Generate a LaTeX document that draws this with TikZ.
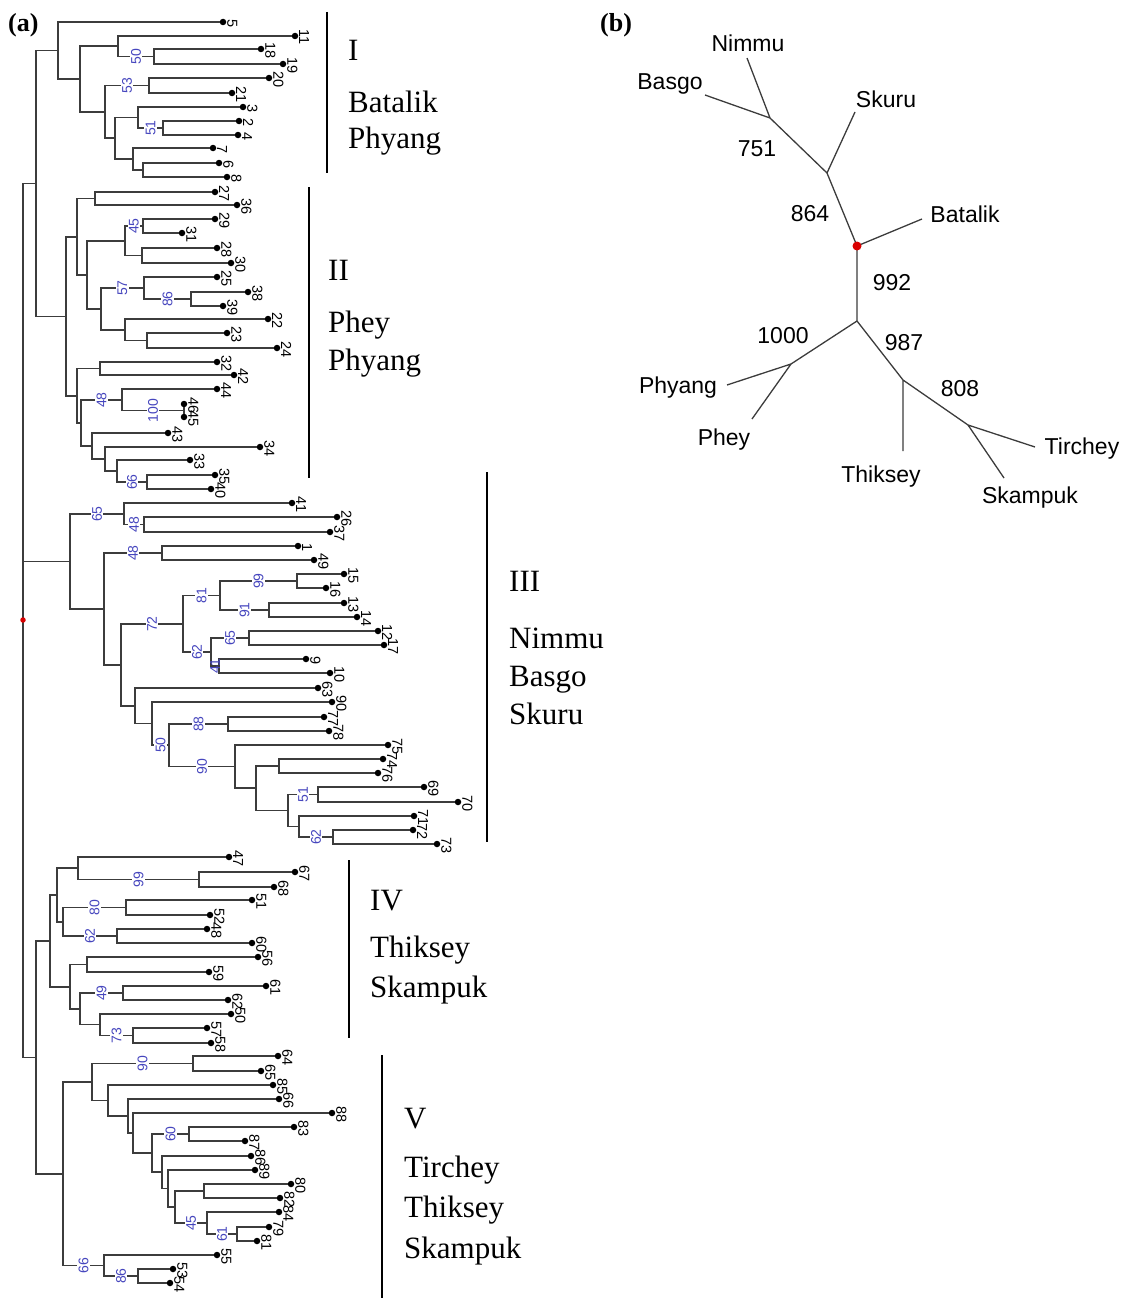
\documentclass[tikz,border=0pt]{standalone}
\usepackage{fontspec}
\setmainfont{Liberation Serif}
\newfontfamily\arialfont{Liberation Sans}
\usetikzlibrary{positioning}
\definecolor{bootblue}{RGB}{70,70,190}
\definecolor{branchgray}{RGB}{60,60,60}

\begin{document}
\begin{tikzpicture}[
    x=1pt, y=-1pt,
    label distance=1.5pt,
    branch/.style={draw=branchgray, line width=1.3pt},
    leaf/.style={
        circle,
        fill=black,
        inner sep=0pt,
        minimum size=6.5pt
    },
    tip/.style={
        rotate=-90,
        anchor=south,
        inner sep=0.5pt,
        font=\arialfont\fontsize{14.5}{15}\selectfont
    },
    boot/.style={
        pos=0.75,
        rotate=90,
        fill=white,
        inner sep=1.2pt,
        text=bootblue,
        font=\arialfont\fontsize{14}{15}\selectfont
    },
    rootdot/.style={circle, fill=red!85!black, inner sep=0pt, minimum size=#1},
    groupbar/.style={line width=2.4pt},
    grouptext/.style={anchor=base west, inner sep=0pt, font=\fontsize{31}{36}\selectfont},
    panel/.style={anchor=base west, inner sep=0pt, font=\bfseries\fontsize{26}{30}\selectfont},
    site/.style={inner sep=0pt, font=\arialfont\fontsize{23}{26}\selectfont},
    unbranch/.style={draw=branchgray, line width=1.3pt}
]
\useasboundingbox (0,0) rectangle (1142,1298);

% (a) dendrogram
\node[panel] (pa) at (8,32) {(a)};

% cluster I leaves
\node[leaf, label={[tip]0:5}] (L5) at (223,22) {};
\node[leaf, label={[tip]0:11}] (L11) at (295,36) {};
\node[leaf, label={[tip]0:18}] (L18) at (261,49) {};
\node[leaf, label={[tip]0:19}] (L19) at (283,64) {};
\node[leaf, label={[tip]0:20}] (L20) at (269,78) {};
\node[leaf, label={[tip]0:21}] (L21) at (232,93) {};
\node[leaf, label={[tip]0:3}] (L3) at (243,107) {};
\node[leaf, label={[tip]0:2}] (L2) at (239,121) {};
\node[leaf, label={[tip]0:4}] (L4) at (238,135) {};
\node[leaf, label={[tip]0:7}] (L7) at (213,148) {};
\node[leaf, label={[tip]0:6}] (L6) at (219,163) {};
\node[leaf, label={[tip]0:8}] (L8) at (227,177) {};

\coordinate (a1) at (154,56.5);
\coordinate (b1) at (118,46);
\coordinate (c1) at (149,85.5);
\coordinate (d1) at (163,128);
\coordinate (e1) at (138,117.5);
\coordinate (h1) at (143,170);
\coordinate (i1) at (133,159);
\coordinate (j1) at (115,138);
\coordinate (f1) at (105,112);
\coordinate (k1) at (80,79);
\coordinate (m1) at (58,50.5);

\draw[branch] (a1) |- (L18) (a1) |- (L19);
\draw[branch] (b1) |- (L11) (b1) |- node[boot] {50} (a1);
\draw[branch] (c1) |- (L20) (c1) |- (L21);
\draw[branch] (d1) |- (L2) (d1) |- (L4);
\draw[branch] (e1) |- (L3) (e1) |- node[boot] {51} (d1);
\draw[branch] (h1) |- (L6) (h1) |- (L8);
\draw[branch] (i1) |- (L7) (i1) |- (h1);
\draw[branch] (j1) |- (e1) (j1) |- (i1);
\draw[branch] (f1) |- node[boot] {53} (c1) (f1) |- (j1);
\draw[branch] (k1) |- (b1) (k1) |- (f1);
\draw[branch] (m1) |- (L5) (m1) |- (k1);

% cluster II leaves
\node[leaf, label={[tip]0:27}] (L27) at (215,192) {};
\node[leaf, label={[tip]0:36}] (L36) at (237,205) {};
\node[leaf, label={[tip]0:29}] (L29) at (215,219) {};
\node[leaf, label={[tip]0:31}] (L31) at (182,233) {};
\node[leaf, label={[tip]0:28}] (L28) at (217,248) {};
\node[leaf, label={[tip]0:30}] (L30) at (231,263) {};
\node[leaf, label={[tip]0:25}] (L25) at (217,277) {};
\node[leaf, label={[tip]0:38}] (L38) at (248,292) {};
\node[leaf, label={[tip]0:39}] (L39) at (223,306) {};
\node[leaf, label={[tip]0:22}] (L22) at (268,319) {};
\node[leaf, label={[tip]0:23}] (L23) at (227,333) {};
\node[leaf, label={[tip]0:24}] (L24) at (277,348) {};
\node[leaf, label={[tip]0:32}] (L32) at (217,362) {};
\node[leaf, label={[tip]0:42}] (L42) at (234,375) {};
\node[leaf, label={[tip]0:44}] (L44) at (217,389) {};
\node[leaf, label={[tip]0:46}] (L46) at (184,404) {};
\node[leaf, label={[tip]0:45}] (L45) at (184,417) {};
\node[leaf, label={[tip]0:43}] (L43) at (168,433) {};
\node[leaf, label={[tip]0:34}] (L34) at (260,447) {};
\node[leaf, label={[tip]0:33}] (L33) at (190,460) {};
\node[leaf, label={[tip]0:35}] (L35) at (215,475) {};
\node[leaf, label={[tip]0:40}] (L40) at (211,489) {};

\coordinate (a2) at (95,198.5);
\coordinate (b2) at (143,226);
\coordinate (c2) at (142,255.5);
\coordinate (d2) at (125,241);
\coordinate (e2) at (191,299);
\coordinate (f2) at (144,288);
\coordinate (g2) at (147,340.5);
\coordinate (h2) at (125,330);
\coordinate (i2) at (101,309);
\coordinate (j2) at (87,275);
\coordinate (k2) at (77,237);
\coordinate (m2) at (100,368.5);
\coordinate (n2) at (184,410.5);
\coordinate (o2) at (122,400);
\coordinate (p2) at (147,482);
\coordinate (q2) at (117,471);
\coordinate (r2) at (105,459);
\coordinate (t2) at (92,446);
\coordinate (s2) at (81,423);
\coordinate (u2) at (77,396);
\coordinate (v2) at (66,316.5);

\draw[branch] (a2) |- (L27) (a2) |- (L36);
\draw[branch] (b2) |- (L29) (b2) |- (L31);
\draw[branch] (c2) |- (L28) (c2) |- (L30);
\draw[branch] (d2) |- node[boot] {45} (b2) (d2) |- (c2);
\draw[branch] (e2) |- (L38) (e2) |- (L39);
\draw[branch] (f2) |- (L25) (f2) |- node[boot] {86} (e2);
\draw[branch] (g2) |- (L23) (g2) |- (L24);
\draw[branch] (h2) |- (L22) (h2) |- (g2);
\draw[branch] (i2) |- node[boot] {57} (f2) (i2) |- (h2);
\draw[branch] (j2) |- (d2) (j2) |- (i2);
\draw[branch] (k2) |- (a2) (k2) |- (j2);
\draw[branch] (m2) |- (L32) (m2) |- (L42);
\draw[branch] (L46) -- (L45);
\draw[branch] (o2) |- (L44) (o2) |- node[boot] {100} (n2);
\draw[branch] (p2) |- (L35) (p2) |- (L40);
\draw[branch] (q2) |- (L33) (q2) |- node[boot] {66} (p2);
\draw[branch] (r2) |- (L34) (r2) |- (q2);
\draw[branch] (t2) |- (L43) (t2) |- (r2);
\draw[branch] (s2) |- node[boot] {48} (o2) (s2) |- (t2);
\draw[branch] (u2) |- (m2) (u2) |- (s2);
\draw[branch] (v2) |- (k2) (v2) |- (u2);

\coordinate (w) at (36,183.5);
\draw[branch] (w) |- (m1) (w) |- (v2);

% cluster III leaves
\node[leaf, label={[tip]0:41}] (L41) at (292,503) {};
\node[leaf, label={[tip]0:26}] (L26) at (337,517) {};
\node[leaf, label={[tip]0:37}] (L37) at (330,532) {};
\node[leaf, label={[tip]0:1}] (L1) at (298,546) {};
\node[leaf, label={[tip]0:49}] (L49) at (314,560) {};
\node[leaf, label={[tip]0:15}] (L15) at (344,574) {};
\node[leaf, label={[tip]0:16}] (L16) at (326,588) {};
\node[leaf, label={[tip]0:13}] (L13) at (344,603) {};
\node[leaf, label={[tip]0:14}] (L14) at (357,617) {};
\node[leaf, label={[tip]0:12}] (L12) at (378,631) {};
\node[leaf, label={[tip]0:17}] (L17) at (384,645) {};
\node[leaf, label={[tip]0:9}] (L9) at (306,659) {};
\node[leaf, label={[tip]0:10}] (L10) at (330,673) {};
\node[leaf, label={[tip]0:63}] (L63) at (318,688) {};
\node[leaf, label={[tip]0:90}] (L90) at (332,702) {};
\node[leaf, label={[tip]0:77}] (L77) at (324,717) {};
\node[leaf, label={[tip]0:78}] (L78) at (329,731) {};
\node[leaf, label={[tip]0:75}] (L75) at (388,745) {};
\node[leaf, label={[tip]0:74}] (L74) at (383,759) {};
\node[leaf, label={[tip]0:76}] (L76) at (378,773) {};
\node[leaf, label={[tip]0:69}] (L69) at (424,787) {};
\node[leaf, label={[tip]0:70}] (L70) at (458,802) {};
\node[leaf, label={[tip]0:71}] (L71) at (414,816) {};
\node[leaf, label={[tip]0:72}] (L72) at (413,830) {};
\node[leaf, label={[tip]0:73}] (L73) at (437,844) {};

\coordinate (a3) at (144,524.5);
\coordinate (b3) at (124,514);
\coordinate (c3) at (162,553);
\coordinate (d3) at (297,581);
\coordinate (e3) at (269,610);
\coordinate (f3) at (220,595.5);
\coordinate (g3) at (249,638);
\coordinate (h3) at (219,666);
\coordinate (i3) at (211,652);
\coordinate (j3) at (183,624);
\coordinate (k3) at (333,837);
\coordinate (m3) at (299,826.5);
\coordinate (n3) at (318,794.5);
\coordinate (o3) at (288,810.5);
\coordinate (p3) at (279,766);
\coordinate (q3) at (256,788);
\coordinate (r3) at (235,766.5);
\coordinate (s3) at (228,724);
\coordinate (t3) at (169,745);
\coordinate (u3) at (152,723.5);
\coordinate (v3) at (135,706);
\coordinate (x3) at (121,665);
\coordinate (y3) at (104,609);
\coordinate (z3) at (70,561.5);

\draw[branch] (a3) |- (L26) (a3) |- (L37);
\draw[branch] (b3) |- (L41) (b3) |- node[boot] {48} (a3);
\draw[branch] (c3) |- (L1) (c3) |- (L49);
\draw[branch] (d3) |- (L15) (d3) |- (L16);
\draw[branch] (e3) |- (L13) (e3) |- (L14);
\draw[branch] (f3) |- node[boot] {99} (d3) (f3) |- node[boot] {91} (e3);
\draw[branch] (g3) |- (L12) (g3) |- (L17);
\draw[branch] (h3) |- (L9) (h3) |- (L10);
\draw[branch] (i3) |- node[boot] {65} (g3) (i3) |- node[boot, fill=none] {41} (h3);
\draw[branch] (j3) |- node[boot] {81} (f3) (j3) |- node[boot] {62} (i3);
\draw[branch] (k3) |- (L72) (k3) |- (L73);
\draw[branch] (m3) |- (L71) (m3) |- node[boot] {62} (k3);
\draw[branch] (n3) |- (L69) (n3) |- (L70);
\draw[branch] (o3) |- node[boot] {51} (n3) (o3) |- (m3);
\draw[branch] (p3) |- (L74) (p3) |- (L76);
\draw[branch] (q3) |- (p3) (q3) |- (o3);
\draw[branch] (r3) |- (L75) (r3) |- (q3);
\draw[branch] (s3) |- (L77) (s3) |- (L78);
\draw[branch] (t3) |- node[boot] {88} (s3) (t3) |- node[boot] {90} (r3);
\draw[branch] (u3) |- (L90) (u3) |- node[boot] {50} (t3);
\draw[branch] (v3) |- (L63) (v3) |- (u3);
\draw[branch] (x3) |- node[boot] {72} (j3) (x3) |- (v3);
\draw[branch] (y3) |- node[boot] {48} (c3) (y3) |- (x3);
\draw[branch] (z3) |- node[boot] {65} (b3) (z3) |- (y3);

% cluster IV leaves
\node[leaf, label={[tip]0:47}] (L47) at (229,857) {};
\node[leaf, label={[tip]0:67}] (L67) at (295,872) {};
\node[leaf, label={[tip]0:68}] (L68) at (274,887) {};
\node[leaf, label={[tip]0:51}] (L51) at (252,900) {};
\node[leaf, label={[tip]0:52}] (L52) at (210,915) {};
\node[leaf, label={[tip]0:48}] (L48) at (207,929) {};
\node[leaf, label={[tip]0:60}] (L60) at (252,943) {};
\node[leaf, label={[tip]0:56}] (L56) at (258,957) {};
\node[leaf, label={[tip]0:59}] (L59) at (209,972) {};
\node[leaf, label={[tip]0:61}] (L61) at (266,986) {};
\node[leaf, label={[tip]0:62}] (L62) at (228,1000) {};
\node[leaf, label={[tip]0:50}] (L50) at (231,1014) {};
\node[leaf, label={[tip]0:57}] (L57) at (207,1028) {};
\node[leaf, label={[tip]0:58}] (L58) at (211,1043) {};

\coordinate (a4) at (199,879.5);
\coordinate (b4) at (78,868);
\coordinate (c4) at (126,907.5);
\coordinate (d4) at (117,936);
\coordinate (e4) at (63,922);
\coordinate (f4) at (57,895);
\coordinate (g4) at (87,964.5);
\coordinate (h4) at (123,993);
\coordinate (i4) at (133,1035.5);
\coordinate (j4) at (100,1024.5);
\coordinate (k4) at (80,1009);
\coordinate (m4) at (70,987);
\coordinate (n4) at (50,941);

\draw[branch] (a4) |- (L67) (a4) |- (L68);
\draw[branch] (b4) |- (L47) (b4) |- node[boot] {99} (a4);
\draw[branch] (c4) |- (L51) (c4) |- (L52);
\draw[branch] (d4) |- (L48) (d4) |- (L60);
\draw[branch] (e4) |- node[boot] {80} (c4) (e4) |- node[boot] {62} (d4);
\draw[branch] (f4) |- (b4) (f4) |- (e4);
\draw[branch] (g4) |- (L56) (g4) |- (L59);
\draw[branch] (h4) |- (L61) (h4) |- (L62);
\draw[branch] (i4) |- (L57) (i4) |- (L58);
\draw[branch] (j4) |- (L50) (j4) |- node[boot] {73} (i4);
\draw[branch] (k4) |- node[boot] {49} (h4) (k4) |- (j4);
\draw[branch] (m4) |- (g4) (m4) |- (k4);
\draw[branch] (n4) |- (f4) (n4) |- (m4);

% cluster V leaves
\node[leaf, label={[tip]0:64}] (L64) at (278,1056) {};
\node[leaf, label={[tip]0:65}] (L65) at (261,1071) {};
\node[leaf, label={[tip]0:85}] (L85) at (273,1085) {};
\node[leaf, label={[tip]0:66}] (L66) at (279,1099) {};
\node[leaf, label={[tip]0:88}] (L88) at (332,1113) {};
\node[leaf, label={[tip]0:83}] (L83) at (294,1127) {};
\node[leaf, label={[tip]0:87}] (L87) at (245,1141) {};
\node[leaf, label={[tip]0:86}] (L86) at (251,1156) {};
\node[leaf, label={[tip]0:89}] (L89) at (255,1170) {};
\node[leaf, label={[tip]0:80}] (L80) at (291,1184) {};
\node[leaf, label={[tip]0:82}] (L82) at (280,1198) {};
\node[leaf, label={[tip]0:84}] (L84) at (279,1212) {};
\node[leaf, label={[tip]0:79}] (L79) at (269,1227) {};
\node[leaf, label={[tip]0:81}] (L81) at (257,1241) {};
\node[leaf, label={[tip]0:55}] (L55) at (217,1255) {};
\node[leaf, label={[tip]0:53}] (L53) at (173,1269) {};
\node[leaf, label={[tip]0:54}] (L54) at (170,1283) {};

\coordinate (a5) at (193,1063.5);
\coordinate (b5) at (189,1134);
\coordinate (c5) at (204,1191);
\coordinate (d5) at (237,1234);
\coordinate (e5) at (207,1223);
\coordinate (f5) at (175,1207);
\coordinate (h5) at (168,1188.5);
\coordinate (i5) at (162,1172);
\coordinate (g5) at (152,1153);
\coordinate (j5) at (133,1133);
\coordinate (m5) at (128,1116);
\coordinate (n5) at (108,1100.5);
\coordinate (k5) at (92,1082);
\coordinate (o5) at (138,1276);
\coordinate (p5) at (104,1265.5);
\coordinate (q5) at (63,1174);

\draw[branch] (a5) |- (L64) (a5) |- (L65);
\draw[branch] (b5) |- (L83) (b5) |- (L87);
\draw[branch] (c5) |- (L80) (c5) |- (L82);
\draw[branch] (d5) |- (L79) (d5) |- (L81);
\draw[branch] (e5) |- (L84) (e5) |- node[boot] {61} (d5);
\draw[branch] (f5) |- (c5) (f5) |- node[boot] {45} (e5);
\draw[branch] (h5) |- (L89) (h5) |- (f5);
\draw[branch] (i5) |- (L86) (i5) |- (h5);
\draw[branch] (g5) |- node[boot] {60} (b5) (g5) |- (i5);
\draw[branch] (j5) |- (L88) (j5) |- (g5);
\draw[branch] (m5) |- (L66) (m5) |- (j5);
\draw[branch] (n5) |- (L85) (n5) |- (m5);
\draw[branch] (k5) |- node[boot] {90} (a5) (k5) |- (n5);
\draw[branch] (o5) |- (L53) (o5) |- (L54);
\draw[branch] (p5) |- (L55) (p5) |- node[boot] {86} (o5);
\draw[branch] (q5) |- (k5) (q5) |- node[boot] {66} (p5);

\coordinate (iv5) at (36,1057.5);
\draw[branch] (iv5) |- (n4) (iv5) |- (q5);

% root
\coordinate (rt) at (23,620);
\draw[branch] (rt) |- (w) (rt) |- (z3) (rt) |- (iv5);
\node[rootdot=5.5pt] (rdA) at (rt) {};

% group bars and names
\coordinate (gI1) at (327,12);
\coordinate (gI2) at (327,173);
\draw[groupbar] (gI1) -- (gI2);
\node[grouptext] (gI) at (348,60) {I};
\node[grouptext] (gIa) at (348,112) {Batalik};
\node[grouptext] (gIb) at (348,148) {Phyang};

\coordinate (gII1) at (309,187);
\coordinate (gII2) at (309,478);
\draw[groupbar] (gII1) -- (gII2);
\node[grouptext] (gII) at (328,280) {II};
\node[grouptext] (gIIa) at (328,332) {Phey};
\node[grouptext] (gIIb) at (328,370) {Phyang};

\coordinate (gIII1) at (487,472);
\coordinate (gIII2) at (487,842);
\draw[groupbar] (gIII1) -- (gIII2);
\node[grouptext] (gIII) at (509,591) {III};
\node[grouptext] (gIIIa) at (509,648) {Nimmu};
\node[grouptext] (gIIIb) at (509,686) {Basgo};
\node[grouptext] (gIIIc) at (509,724) {Skuru};

\coordinate (gIV1) at (349,860);
\coordinate (gIV2) at (349,1038);
\draw[groupbar] (gIV1) -- (gIV2);
\node[grouptext] (gIV) at (370,910) {IV};
\node[grouptext] (gIVa) at (370,957) {Thiksey};
\node[grouptext] (gIVb) at (370,997) {Skampuk};

\coordinate (gV1) at (382,1055);
\coordinate (gV2) at (382,1298);
\draw[groupbar] (gV1) -- (gV2);
\node[grouptext] (gV) at (404,1128) {V};
\node[grouptext] (gVa) at (404,1177) {Tirchey};
\node[grouptext] (gVb) at (404,1217) {Thiksey};
\node[grouptext] (gVc) at (404,1258) {Skampuk};

% (b) unrooted tree
\node[panel] (pb) at (600,32) {(b)};

\coordinate (nb) at (770,118);
\coordinate (ns) at (827,173);
\coordinate (rb) at (857,246);
\coordinate (lo) at (857,321);
\coordinate (pp) at (791,364);
\coordinate (ts) at (903,380);
\coordinate (st) at (968,425);

\coordinate (tNim) at (747,58);
\coordinate (tBas) at (705,95);
\coordinate (tSku) at (855,112);
\coordinate (tBat) at (922,219);
\coordinate (tPhy) at (727,385);
\coordinate (tPhe) at (752,419);
\coordinate (tThi) at (903,451);
\coordinate (tTir) at (1035,447);
\coordinate (tSka) at (1004,478);

\draw[unbranch] (tNim) -- (nb) (tBas) -- (nb) (nb) -- (ns) (tSku) -- (ns);
\draw[unbranch] (ns) -- (rb) (tBat) -- (rb) (rb) -- (lo);
\draw[unbranch] (lo) -- (pp) (tPhy) -- (pp) (tPhe) -- (pp);
\draw[unbranch] (lo) -- (ts) (tThi) -- (ts) (ts) -- (st) (tTir) -- (st) (tSka) -- (st);
\node[rootdot=9pt] (rdB) at (rb) {};

\node[site] (Nim) at (748,43) {Nimmu};
\node[site] (Bas) at (670,84) {Basgo};
\node[site] (Sku) at (886,99) {Skuru};
\node[site] (Bat) at (965,214) {Batalik};
\node[site] (Phy) at (678,388) {Phyang};
\node[site] (Phe) at (724,440) {Phey};
\node[site] (Thi) at (881,477) {Thiksey};
\node[site] (Ska) at (1030,498) {Skampuk};
\node[site] (Tir) at (1082,449) {Tirchey};

\node[site] (v751) at (757,149) {751};
\node[site] (v864) at (810,214) {864};
\node[site] (v992) at (892,283) {992};
\node[site] (v1000) at (783,336) {1000};
\node[site] (v987) at (904,343) {987};
\node[site] (v808) at (960,389) {808};

\end{tikzpicture}
\end{document}
